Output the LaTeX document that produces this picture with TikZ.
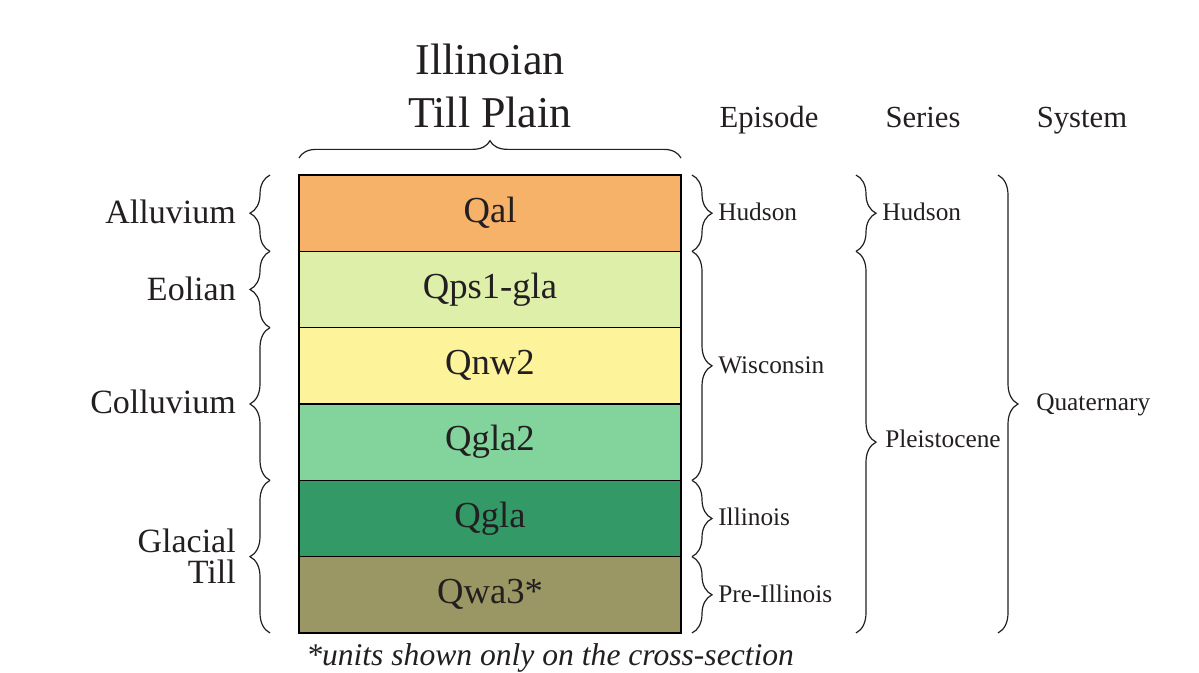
\documentclass[tikz,border=0pt]{standalone}
\usepackage{fontspec}
\setmainfont{Liberation Serif}
\usetikzlibrary{decorations.pathreplacing}

\definecolor{inkc}{HTML}{231F20}
\definecolor{cQal}{HTML}{F7B26A}
\definecolor{cQps}{HTML}{DDEFA8}
\definecolor{cQnw}{HTML}{FCF39A}
\definecolor{cQgltwo}{HTML}{82D39C}
\definecolor{cQgl}{HTML}{339966}
\definecolor{cQwa}{HTML}{9A9765}

\tikzset{
  unit/.style={inner sep=0pt, outer sep=0pt,
    minimum width=286.5pt, minimum height=57.25pt, text=inkc,
    font=\fontsize{27.5}{30}\selectfont},
  brc/.style={decorate, decoration={brace, amplitude=15pt}, line width=0.9pt, inkc},
  lbl/.style={text=inkc, font=\fontsize{25.5}{23.25}\selectfont, inner sep=0pt},
  hdr/.style={text=inkc, font=\fontsize{23}{26}\selectfont, inner sep=0pt},
  sml/.style={text=inkc, font=\fontsize{19}{22}\selectfont, inner sep=0pt}
}

\begin{document}
\begin{tikzpicture}[x=0.75pt,y=-0.75pt]
  \useasboundingbox (0,0) rectangle (1199,673);

  % the column of units
  \node[unit, fill=cQal]    (qal)  at (490,213.2) {Qal};
  \node[unit, fill=cQps]    (qps)  at (490,289.5) {Qps1-gla};
  \node[unit, fill=cQnw]    (qnw)  at (490,365.8) {Qnw2};
  \node[unit, fill=cQgltwo] (qgl2) at (490,442.2) {Qgla2};
  \node[unit, fill=cQgl]    (qgl)  at (490,518.5) {Qgla};
  \node[unit, fill=cQwa]    (qwa)  at (490,594.8) {Qwa3*};
  \foreach \u in {qal,qps,qnw,qgl2,qgl,qwa}
    \draw[line width=1.2pt] (\u.north west) rectangle (\u.south east);

  % title
  \node[text=inkc, align=center, inner sep=0pt, font=\fontsize{33}{39.75}\selectfont]
    (title) at (490,86) {Illinoian\\Till Plain};
  \draw[brc, decoration={amplitude=13pt}] ([yshift=12.75pt]qal.north west) -- ([yshift=12.75pt]qal.north east);

  % left: deposits
  \draw[brc] ([xshift=-21.75pt]qal.south west)  -- ([xshift=-21.75pt]qal.north west);
  \draw[brc] ([xshift=-21.75pt]qps.south west)  -- ([xshift=-21.75pt]qps.north west);
  \draw[brc] ([xshift=-21.75pt]qgl2.south west) -- ([xshift=-21.75pt]qnw.north west);
  \draw[brc] ([xshift=-21.75pt]qwa.south west)  -- ([xshift=-21.75pt]qgl.north west);
  \node[lbl, anchor=east] (alluv) at (236,212) {Alluvium};
  \node[lbl, anchor=east] (eol)   at (236,289) {Eolian};
  \node[lbl, anchor=east] (coll)  at (236,402) {Colluvium};
  \node[lbl, anchor=east, align=right] (till) at (236,556) {Glacial\\Till};

  % right: episode, series, system
  \node[hdr, anchor=base] (hepi) at (769,128) {Episode};
  \node[hdr, anchor=base] (hser) at (923,128) {Series};
  \node[hdr, anchor=base] (hsys) at (1082,128) {System};

  \draw[brc] ([xshift=8.25pt]qal.north east)  -- ([xshift=8.25pt]qal.south east);
  \draw[brc] ([xshift=8.25pt]qps.north east)  -- ([xshift=8.25pt]qgl2.south east);
  \draw[brc] ([xshift=8.25pt]qgl.north east)  -- ([xshift=8.25pt]qgl.south east);
  \draw[brc] ([xshift=8.25pt]qwa.north east)  -- ([xshift=8.25pt]qwa.south east);
  \node[sml, anchor=west] (ehud) at (718,212) {Hudson};
  \node[sml, anchor=west] (ewis) at (718,365) {Wisconsin};
  \node[sml, anchor=west] (eill) at (718,517) {Illinois};
  \node[sml, anchor=west] (epre) at (718,594) {Pre-Illinois};

  \draw[brc] ([xshift=131.25pt]qal.north east) -- ([xshift=131.25pt]qal.south east);
  \draw[brc] ([xshift=131.25pt]qps.north east) -- ([xshift=131.25pt]qwa.south east);
  \node[sml, anchor=west] (shud) at (882,212) {Hudson};
  \node[sml, anchor=west] (sple) at (885,439) {Pleistocene};

  \draw[brc] ([xshift=237.75pt]qal.north east) -- ([xshift=237.75pt]qwa.south east);
  \node[sml, anchor=west] (quat) at (1036,405) {Quaternary};

  % footnote
  \node[hdr, anchor=base west, font=\fontsize{23.7}{26}\selectfont\itshape] (note) at (306,665)
    {*units shown only on the cross-section};
\end{tikzpicture}
\end{document}
